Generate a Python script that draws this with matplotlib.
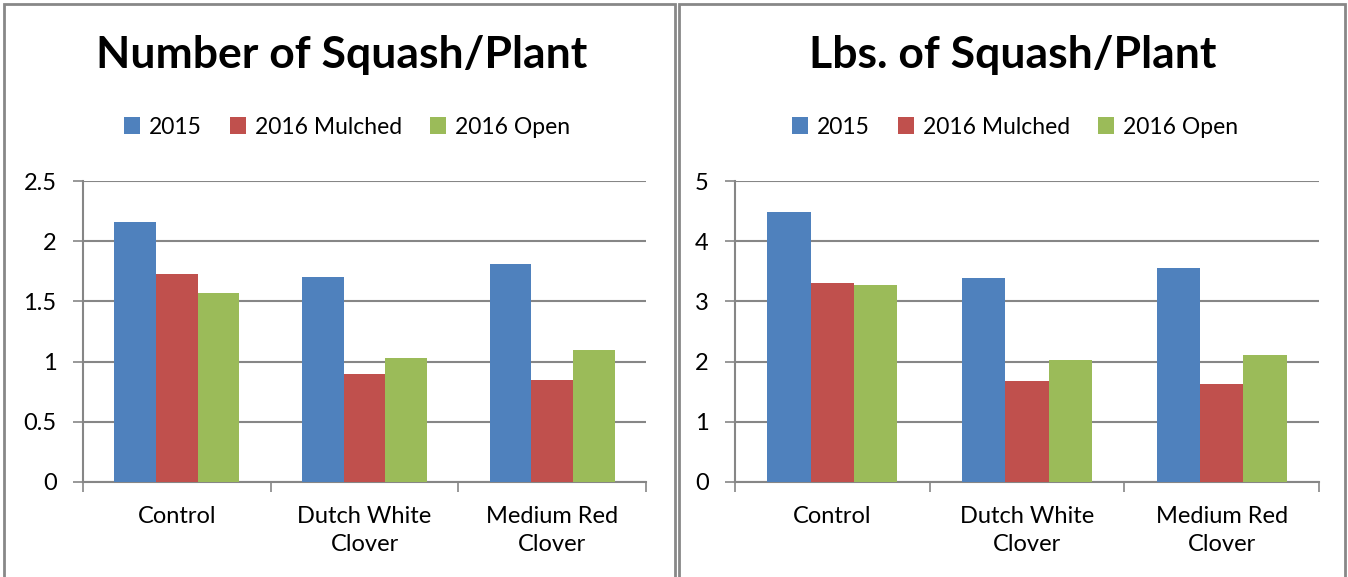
import matplotlib.pyplot as plt
from matplotlib.patches import Rectangle
import numpy as np

plt.rcParams['font.family'] = ['Lato', 'DejaVu Sans']

categories = ["Control", "Dutch White\nClover", "Medium Red\nClover"]
series_names = ["2015", "2016 Mulched", "2016 Open"]
colors = ["#4f81bd", "#c0504d", "#9bbb59"]

# Number of squash per plant
count_2015 = [2.16, 1.70, 1.81]
count_mulched = [1.73, 0.90, 0.85]
count_open = [1.57, 1.03, 1.10]

# Lbs of squash per plant
lbs_2015 = [4.48, 3.39, 3.56]
lbs_mulched = [3.31, 1.68, 1.63]
lbs_open = [3.28, 2.02, 2.11]

W, H = 1348, 577
fig = plt.figure(figsize=(W / 100, H / 100), dpi=100)

# panel borders
for x0, x1 in [(4, 675), (679, 1345)]:
    fig.patches.append(Rectangle((x0 / W, -0.05), (x1 - x0) / W, 1.05 - 4 / H,
                                 transform=fig.transFigure, fill=False,
                                 edgecolor="#888888", linewidth=2))


def draw_panel(rect, title, title_x, legend_x, data, ymax, ystep, fmt):
    ax = fig.add_axes(rect)
    x = np.arange(len(categories))
    bw = 1 / 4.5
    for i, (vals, c, name) in enumerate(zip(data, colors, series_names)):
        ax.bar(x + (i - 1) * bw, vals, bw, color=c, label=name, zorder=3)
    ax.set_xlim(-0.5, len(categories) - 0.5)
    ax.set_ylim(0, ymax)
    yt = np.arange(0, ymax + ystep / 2, ystep)
    ax.set_yticks(yt)
    ax.set_yticklabels([fmt(v) for v in yt], fontsize=17)
    ax.yaxis.grid(True, color="#868686", linewidth=1.5, zorder=0)
    ax.set_xticks(x)
    ax.set_xticklabels(categories, fontsize=17, linespacing=1.45)
    ax.set_xticks(np.arange(-0.5, len(categories)), minor=True)
    ax.tick_params(axis="x", which="major", length=0, pad=17)
    ax.tick_params(axis="x", which="minor", length=7, width=1.2, color="#868686")
    ax.tick_params(axis="y", length=7, width=1.2, color="#868686", pad=12)
    for s in ["top", "right"]:
        ax.spines[s].set_visible(False)
    for s in ["left", "bottom"]:
        ax.spines[s].set_color("#868686")
        ax.spines[s].set_linewidth(1.5)
    fig.text(title_x, 1 - 55 / H, title, fontsize=32, fontweight="bold",
             ha="center", va="center")
    fig.legend(*ax.get_legend_handles_labels(), loc="center",
               bbox_to_anchor=(legend_x, 1 - 127 / H), ncol=3, frameon=False,
               fontsize=16.5, handlelength=0.7, handleheight=0.7,
               columnspacing=1.2, handletextpad=0.4)
    return ax


top = 1 - 181 / H
bottom = 1 - 482 / H
draw_panel([83 / W, bottom, (646 - 83) / W, top - bottom],
           "Number of Squash/Plant", 342 / W, 347 / W,
           [count_2015, count_mulched, count_open], 2.5, 0.5,
           lambda v: f"{v:g}")
draw_panel([735 / W, bottom, (1319 - 735) / W, top - bottom],
           "Lbs. of Squash/Plant", 1013 / W, 1015 / W,
           [lbs_2015, lbs_mulched, lbs_open], 5, 1,
           lambda v: f"{v:g}")

fig.savefig("out.png", dpi=100)
